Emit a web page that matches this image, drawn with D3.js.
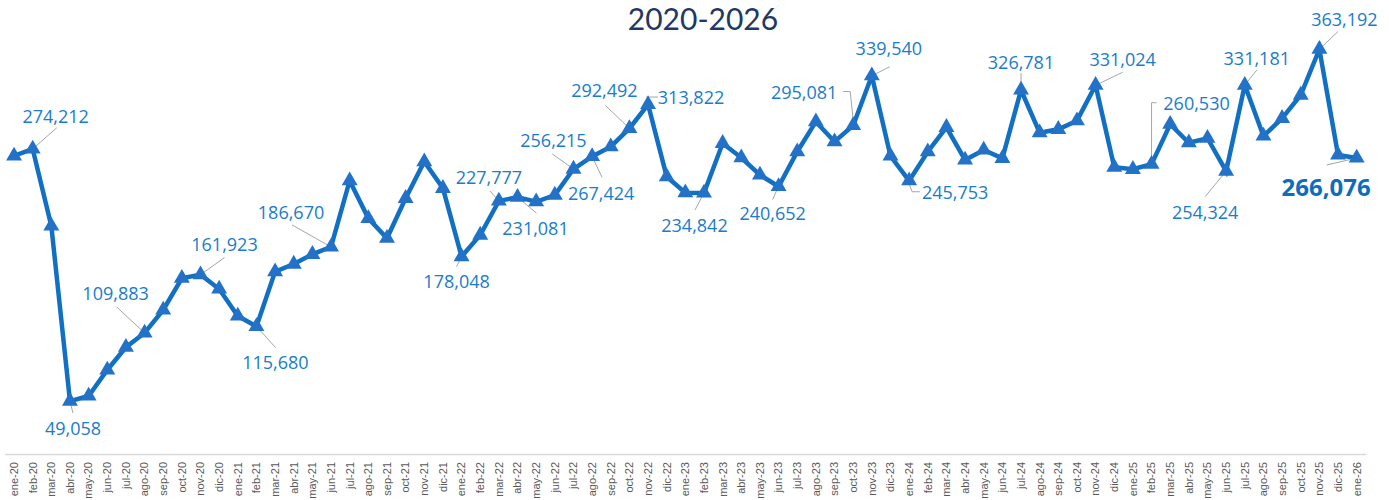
<!DOCTYPE html>
<html>
<head>
<meta charset="utf-8">
<script src="https://cdn.jsdelivr.net/npm/d3@7"></script>
<style>
  body { margin: 0; background: #fff; }
  svg { display: block; font-family: 'Open Sans', sans-serif; }
</style>
</head>
<body>
<div id="chart"></div>
<script>
const months = [
  'ene-20', 'feb-20', 'mar-20', 'abr-20', 'may-20', 'jun-20', 'jul-20', 'ago-20', 'sep-20', 'oct-20', 'nov-20', 'dic-20',
  'ene-21', 'feb-21', 'mar-21', 'abr-21', 'may-21', 'jun-21', 'jul-21', 'ago-21', 'sep-21', 'oct-21', 'nov-21', 'dic-21',
  'ene-22', 'feb-22', 'mar-22', 'abr-22', 'may-22', 'jun-22', 'jul-22', 'ago-22', 'sep-22', 'oct-22', 'nov-22', 'dic-22',
  'ene-23', 'feb-23', 'mar-23', 'abr-23', 'may-23', 'jun-23', 'jul-23', 'ago-23', 'sep-23', 'oct-23', 'nov-23', 'dic-23',
  'ene-24', 'feb-24', 'mar-24', 'abr-24', 'may-24', 'jun-24', 'jul-24', 'ago-24', 'sep-24', 'oct-24', 'nov-24', 'dic-24',
  'ene-25', 'feb-25', 'mar-25', 'abr-25', 'may-25', 'jun-25', 'jul-25', 'ago-25', 'sep-25', 'oct-25', 'nov-25', 'dic-25',
  'ene-26'
]

const values = [
  268000, 274212, 205400, 49058, 53600, 76800, 97100, 109883, 130400, 158700, 161923, 149100,
  125000, 115680, 164600, 171400, 180100, 186670, 245800, 212200, 194400, 230100, 262800, 239000,
  178048, 197300, 227777, 231081, 227000, 233000, 256215, 267424, 276200, 292492, 313822, 249400,
  235100, 234842, 279200, 266300, 250900, 240652, 271700, 298500, 280600, 295081, 339540, 267900,
  245753, 271700, 293500, 264300, 273200, 265800, 326781, 288700, 291700, 299400, 331024, 257800,
  256000, 260530, 296200, 279700, 283700, 254324, 331181, 285700, 301500, 322300, 363192, 268800,
  266076
]

// which months carry a data label
const labelled = [1, 3, 7, 10, 13, 17, 24, 26, 27, 30, 31, 33, 34, 37, 41, 45, 46, 48, 54, 58, 61, 65, 66, 70, 72]

// label placement relative to the point: text offset + leader polyline
const labelPos = {
  1: { dx: 23, dy: -33, leader: [[24, -21], [0, 0]] },
  3: { dx: 3, dy: 27, leader: [[3, 12], [0, 0]] },
  7: { dx: -29, dy: -40, leader: [[-28, -26], [0, 0]] },
  10: { dx: 24, dy: -31, leader: [[24, -17], [0, 0]] },
  13: { dx: 19, dy: 36, leader: [[19, 21], [0, 0]] },
  17: { dx: -40, dy: -35, leader: [[-39, -22], [0, 0]] },
  24: { dx: -5, dy: 24, leader: [[-5, 10], [0, 0]] },
  26: { dx: -10, dy: -24, leader: [[-9, -10], [0, 0]] },
  27: { dx: 18, dy: 31, leader: [[19, 16], [0, 0]] },
  30: { dx: -20, dy: -29, leader: [[-21, -15], [0, 0]] },
  31: { dx: 9, dy: 37, leader: [[10, 21], [0, 0]] },
  33: { dx: -25, dy: -38, leader: [[-24, -23], [0, 0]] },
  34: { dx: 43, dy: -7.5, leader: [[10, -7.5], [-2, -7.5]] },
  37: { dx: -9.5, dy: 32, leader: [[-9, 17], [0, 0]] },
  41: { dx: -6, dy: 26.5, leader: [[-6, 13], [0, 0]] },
  45: { dx: -49, dy: -34, leader: [[-10, -34], [-3, -34], [0, -6]] },
  46: { dx: 17, dy: -28, leader: [[18, -9], [0, 0]] },
  48: { dx: 46, dy: 11, leader: [[11, 11], [3, 11], [0, 3]] },
  54: { dx: 0, dy: -28, leader: [[0, -17], [0, -7]] },
  58: { dx: 27, dy: -26, leader: [[27, -13], [0, 0]] },
  61: { dx: 45, dy: -61.5, leader: [[5, -61.5], [0, -61.5], [0, -3]] },
  65: { dx: -21, dy: 40.5, leader: [[-21, 25.5], [0, 0]] },
  66: { dx: 12, dy: -27.4, leader: [[12, -15], [0, 0]] },
  70: { dx: 25, dy: -30, leader: [[18.5, -17.6], [0, 0]] },
  72: { dx: -30.5, dy: 28.7, leader: [[-30, 7], [0, 0]] }
}

const width = 1389
const height = 500

const svg = d3
  .select('#chart')
  .append('svg')
  .attr('width', width)
  .attr('height', height)

const x = d3.scaleBand().domain(months).range([4.7, 1366]).padding(0)
const y = d3.scaleLinear().domain([0, 400000]).range([456, 8])

const px = i => x(months[i]) + x.bandwidth() / 2
const py = i => y(values[i])

// Title
svg
  .append('text')
  .attr('x', 703)
  .attr('y', 30)
  .attr('text-anchor', 'middle')
  .style('font-family', 'Lato, sans-serif')
  .style('font-size', '30px')
  .attr('fill', '#1f3864')
  .text('2020-2026')

// x axis
const xAxis = svg
  .append('g')
  .attr('transform', 'translate(0,454)')
  .call(d3.axisBottom(x).tickSize(0).tickPadding(0))

xAxis.select('.domain').attr('stroke', '#d9d9d9').attr('stroke-width', 1.5)

xAxis
  .selectAll('text')
  .attr('transform', 'translate(0,8) rotate(-90)')
  .attr('text-anchor', 'end')
  .attr('dy', '0.35em')
  .attr('x', 0)
  .attr('y', 0)
  .style('font-family', 'Liberation Sans, sans-serif')
  .style('font-size', '11px')
  .attr('fill', '#595959')

// Line
const line = d3
  .line()
  .x((d, i) => px(i))
  .y(d => y(d))

svg
  .append('path')
  .datum(values)
  .attr('d', line)
  .attr('fill', 'none')
  .attr('stroke', '#1170c4')
  .attr('stroke-width', 4.5)
  .attr('stroke-linejoin', 'miter')

// Leader lines
svg
  .selectAll('.leader')
  .data(labelled)
  .enter()
  .append('polyline')
  .attr('class', 'leader')
  .attr('points', i =>
    labelPos[i].leader.map(p => [px(i) + p[0], py(i) + p[1]].join(',')).join(' ')
  )
  .attr('fill', 'none')
  .attr('stroke', '#a6a6a6')
  .attr('stroke-width', 1)

// Triangles
svg
  .selectAll('.marker')
  .data(values)
  .enter()
  .append('path')
  .attr('class', 'marker')
  .attr('d', d3.symbol().type(d3.symbolTriangle).size(110))
  .attr('transform', (d, i) => `translate(${px(i)},${y(d)})`)
  .attr('fill', '#2472c8')

// Labels
svg
  .selectAll('.label')
  .data(labelled)
  .enter()
  .append('text')
  .attr('class', 'label')
  .attr('x', i => px(i) + labelPos[i].dx)
  .attr('y', i => py(i) + labelPos[i].dy)
  .attr('text-anchor', 'middle')
  .attr('dominant-baseline', 'central')
  .style('font-size', i => (i === 72 ? '24px' : '18px'))
  .style('font-weight', i => (i === 72 ? 700 : 400))
  .attr('fill', i => (i === 72 ? '#0b6cc0' : '#1a7ccc'))
  .text(i => d3.format(',')(values[i]))
</script>
</body>
</html>
